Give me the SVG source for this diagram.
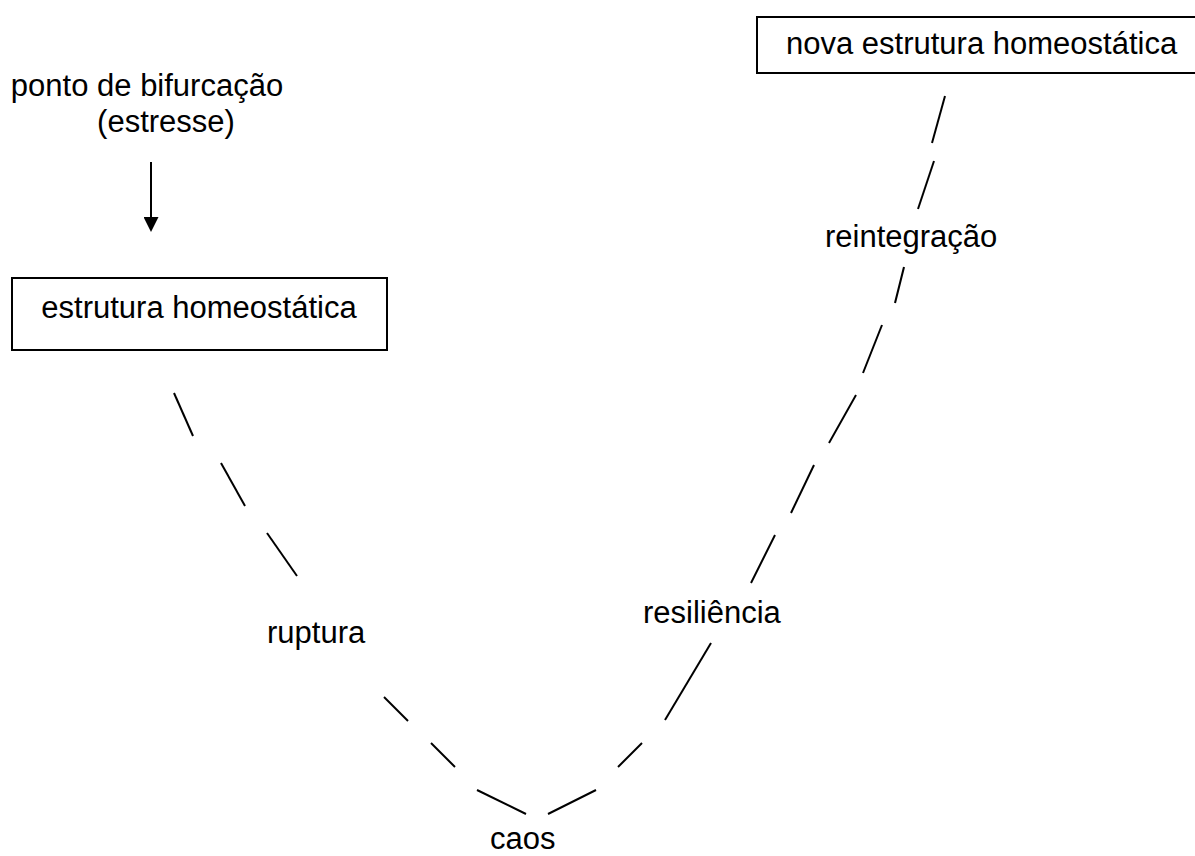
<svg xmlns="http://www.w3.org/2000/svg" width="1195" height="856" viewBox="0 0 1195 856">
<style>
  text { font-family: "Liberation Sans", Arial, sans-serif; font-size: 31px; fill: #000; }
  .box { fill: #fff; stroke: #000; stroke-width: 2; }
  .dash { stroke: #000; stroke-width: 2; fill: none; }
</style>
<defs>
  <marker id="arrow" markerWidth="15" markerHeight="15" refX="0" refY="7.5" orient="auto" markerUnits="userSpaceOnUse">
    <path d="M0,0 L15,7.5 L0,15 Z" fill="#000"/>
  </marker>
</defs>
<rect width="1195" height="856" fill="#fff"/>

<g id="bifurcacao">
  <text x="147" y="96" text-anchor="middle">ponto de bifurcação</text>
  <text x="166" y="132" text-anchor="middle">(estresse)</text>
</g>

<g id="estrutura">
  <rect class="box" x="12" y="278" width="375" height="72"/>
  <text x="199" y="318" text-anchor="middle">estrutura homeostática</text>
</g>

<g id="nova-estrutura">
  <rect class="box" x="757" y="17" width="460" height="56"/>
  <text x="786" y="54">nova estrutura homeostática</text>
</g>

<g id="ruptura"><text x="267" y="643">ruptura</text></g>
<g id="caos"><text x="490" y="849">caos</text></g>
<g id="resiliencia"><text x="643" y="623">resiliência</text></g>
<g id="reintegracao"><text x="825" y="247">reintegração</text></g>

<g id="connectors">
  <line x1="151" y1="162" x2="151" y2="217" stroke="#000" stroke-width="2" marker-end="url(#arrow)"/>
  <line class="dash" x1="174" y1="393" x2="193" y2="436"/>
  <line class="dash" x1="221" y1="463" x2="245" y2="506"/>
  <line class="dash" x1="267" y1="533" x2="297" y2="576"/>
  <line class="dash" x1="384" y1="697" x2="408" y2="721"/>
  <line class="dash" x1="431" y1="743" x2="455" y2="767"/>
  <line class="dash" x1="477" y1="790" x2="526" y2="814"/>
  <line class="dash" x1="548" y1="814" x2="596" y2="790"/>
  <line class="dash" x1="618" y1="767" x2="642" y2="743"/>
  <line class="dash" x1="665" y1="720" x2="711" y2="643"/>
  <line class="dash" x1="751" y1="583" x2="775" y2="535"/>
  <line class="dash" x1="791" y1="513" x2="814" y2="465"/>
  <line class="dash" x1="829" y1="443" x2="856" y2="395"/>
  <line class="dash" x1="863" y1="373" x2="882" y2="325"/>
  <line class="dash" x1="895" y1="303" x2="904" y2="267"/>
  <line class="dash" x1="918" y1="209" x2="934" y2="161"/>
  <line class="dash" x1="932" y1="143" x2="945" y2="96"/>
</g>
</svg>
